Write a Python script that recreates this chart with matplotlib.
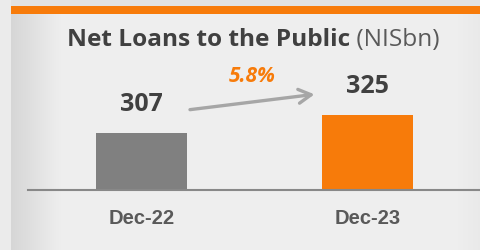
import numpy as np
import matplotlib
matplotlib.use("Agg")
import matplotlib.pyplot as plt

# data
periods = ["Dec-22", "Dec-23"]
loans = [307, 325]
growth_label = "5.8%"
title_main = "Net Loans to the Public"
title_unit = " (NISbn)"

bar_colors = ["#808080", "#F77B0A"]
orange = "#F77B0A"
dark = "#404040"
font = "Open Sans"

W, H = 481, 250
fig = plt.figure(figsize=(W / 100, H / 100), dpi=100)
fig.patch.set_facecolor("#ececec")

# background panel with left gradient
bg = fig.add_axes([0, 0, 1, 1])
bg.set_xlim(0, W)
bg.set_ylim(H, 0)
bg.axis("off")
cols = np.arange(W)
shade = np.clip(0.84 + (cols - 11) / 50 * 0.095, 0.84, 0.935)
shade = np.where(cols > 455, 0.935 - (cols - 455) / 26 * 0.02, shade)
shade[:11] = 0.925
img = np.tile(shade, (H, 1))
img[:6, 11:] = 0.89
rgb = np.dstack([img, img, img])
bg.imshow(rgb, extent=(0, W, H, 0), aspect="auto", interpolation="nearest")
bg.add_patch(plt.Rectangle((11, 6), W - 11, 8, color=orange, lw=0))

# main axes: baseline at y=190px, 1 px per unit
ax = fig.add_axes([28 / W, (H - 190) / H, 453 / W, 170 / H])
ax.patch.set_alpha(0)
x = np.arange(len(periods))
ax.bar(x, loans, width=0.40, color=bar_colors, bottom=0)
ax.set_ylim(250, 420)
ax.set_xlim(-0.5, 1.5)

for xi, v in zip(x, loans):
    ax.text(xi, v + 28, str(v), ha="center", va="center",
            fontsize=18, fontweight="bold", color=dark, family=font)

ax.annotate("", xy=(0.777, 346), xytext=(0.203, 330),
            arrowprops=dict(arrowstyle="->,head_length=0.9,head_width=0.5",
                            color="#a6a6a6", lw=2.4))
ax.text(0.49, 363, growth_label, ha="center", va="center", fontsize=15,
        fontweight="bold", fontstyle="italic", color=orange, family=font)

for s in ["top", "right", "left"]:
    ax.spines[s].set_visible(False)
ax.spines["bottom"].set_color("#888888")
ax.spines["bottom"].set_linewidth(1.5)
ax.set_yticks([])
ax.set_xticks(x)
ax.set_xticklabels(periods, fontsize=14.5, fontweight="bold", color="#595959",
                   family="Liberation Sans")
ax.tick_params(axis="x", length=0, pad=14)

# title
fig.text(0.728, (H - 46) / H, title_main, ha="right", va="baseline",
         fontsize=17.6, fontweight="bold", color=dark, family=font)
fig.text(0.728, (H - 46) / H, title_unit, ha="left", va="baseline",
         fontsize=17.6, color="#595959", family=font)

fig.savefig("out.png", dpi=100)
